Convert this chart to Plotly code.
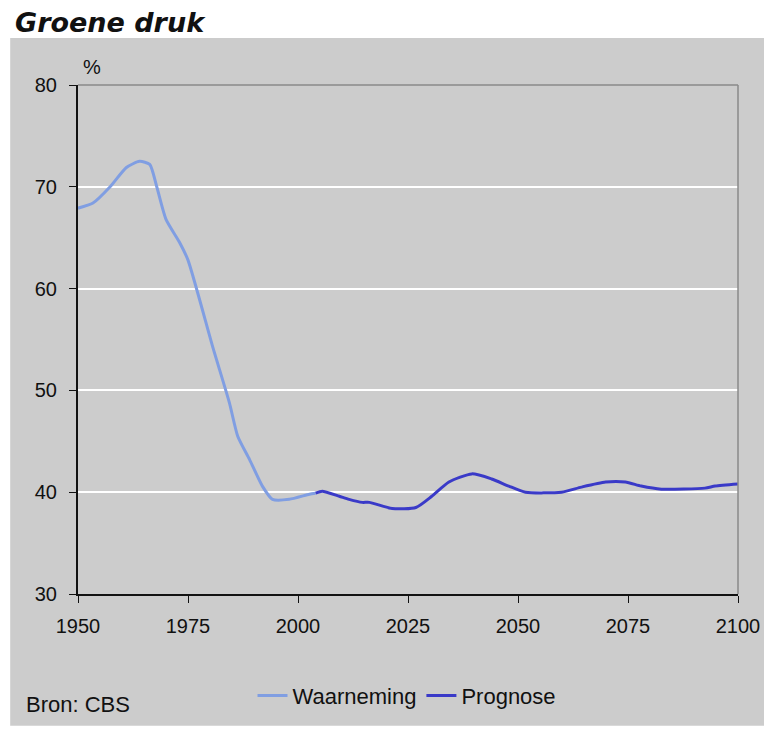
import plotly.graph_objects as go

# Waarneming (observed)
obs_years = [1950, 1953.4, 1957.3, 1961, 1964, 1966.3, 1967.9, 1970, 1973, 1975, 1980.6, 1984.4,
             1986.3, 1989, 1991.9, 1994.2, 1998, 2002.6, 2004]
obs_vals = [67.9, 68.4, 70.0, 71.9, 72.5, 72.2, 70.0, 66.8, 64.6, 62.8, 54.3, 48.8,
            45.5, 43.2, 40.6, 39.3, 39.3, 39.8, 39.9]

# Prognose (projection)
prog_years = [2004, 2005.5, 2009.4, 2011.6, 2014.6, 2016.2, 2021.4, 2026.8, 2030.4, 2034.3, 2039.5,
              2044, 2047.9, 2051.7, 2059.9, 2064.4, 2069.9, 2074.4, 2078, 2082.6, 2092.5, 2094.8, 2100]
prog_vals = [39.9, 40.1, 39.6, 39.3, 39.0, 39.0, 38.4, 38.5, 39.6, 41.0, 41.8,
             41.3, 40.6, 40.0, 40.0, 40.5, 41.0, 41.0, 40.6, 40.3, 40.4, 40.6, 40.8]

x_ticks = [1950, 1975, 2000, 2025, 2050, 2075, 2100]
y_ticks = [30, 40, 50, 60, 70, 80]

fig = go.Figure()
fig.add_trace(go.Scatter(x=obs_years, y=obs_vals, mode="lines", name="Waarneming",
                         line=dict(color="#809ee2", width=3, shape="spline", smoothing=0.6)))
fig.add_trace(go.Scatter(x=prog_years, y=prog_vals, mode="lines", name="Prognose",
                         line=dict(color="#3a3ac8", width=3, shape="spline", smoothing=0.6)))

OFF = 8  # page body margin
W, H = 772 - OFF, 729 - OFF
L, R, T, B = 78 - OFF, 772 - 740, 85 - OFF, 729 - 595
pw, ph = W - L - R, H - T - B

def px(xp):  # page x -> paper
    return (xp - OFF - L) / pw

def py(yp):  # page y -> paper
    return (H - B - (yp - OFF)) / ph

panel = "#cccccc"
fig.add_shape(type="rect", xref="paper", yref="paper", x0=px(10), x1=px(768), y0=py(727), y1=py(38),
              fillcolor=panel, line=dict(width=0), layer="below")
# top and right plot borders
fig.add_shape(type="line", xref="paper", yref="paper", x0=0, x1=1, y0=1, y1=1,
              line=dict(color="#8a8a8a", width=1.5))
fig.add_shape(type="line", xref="paper", yref="paper", x0=1, x1=1, y0=0, y1=1,
              line=dict(color="#8a8a8a", width=1.5))

fig.add_annotation(text="<b><i>Groene druk</i></b>", xref="paper", yref="paper",
                   x=px(13), y=py(22), xanchor="left", yanchor="middle", showarrow=False,
                   font=dict(family="DejaVu Sans", size=27, color="#111111"))
fig.add_annotation(text="%", xref="paper", yref="paper", x=px(92), y=py(67),
                   xanchor="center", yanchor="middle", showarrow=False,
                   font=dict(family="Liberation Sans", size=20, color="#111111"))
fig.add_annotation(text="Bron: CBS", xref="paper", yref="paper", x=px(24), y=py(706),
                   xanchor="left", yanchor="middle", showarrow=False,
                   font=dict(family="Liberation Sans", size=22, color="#111111"))

fig.update_layout(
    width=W, height=H,
    margin=dict(l=L, r=R, t=T, b=B),
    paper_bgcolor="white",
    plot_bgcolor="rgba(0,0,0,0)",
    font=dict(family="Liberation Sans", size=20, color="#111111"),
    showlegend=True,
    legend=dict(orientation="h", x=px(408), xanchor="center", y=py(697), yanchor="middle",
                bgcolor="rgba(0,0,0,0)", font=dict(size=22), itemwidth=30, tracegroupgap=0),
    xaxis=dict(range=[1950, 2100], tickvals=x_ticks, ticks="outside", ticklen=7, tickcolor="#111111",
               showline=True, linecolor="#111111", linewidth=2, showgrid=False, zeroline=False,
               tickfont=dict(size=20), ticklabelstandoff=6),
    yaxis=dict(range=[30, 80], tickvals=y_ticks, ticks="outside", ticklen=7, tickcolor="#111111",
               showline=True, linecolor="#111111", linewidth=2, showgrid=True, gridcolor="white",
               gridwidth=2, zeroline=False, tickfont=dict(size=20), ticklabelstandoff=8),
)

fig.write_html("out.html")
